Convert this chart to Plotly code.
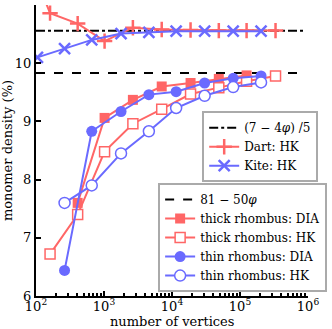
import plotly.graph_objects as go

# x positions (number of vertices)
dart_x = [62, 161, 410, 1020, 2660, 7060, 18750, 48800, 125000, 333000]
dart_y = [12.07, 10.86, 10.68, 10.38, 10.61, 10.58, 10.57, 10.56, 10.56, 10.56]

kite_x = [105, 263, 660, 1780, 4570, 11500, 30200, 79400, 204000]
kite_y = [10.10, 10.25, 10.40, 10.51, 10.53, 10.55, 10.55, 10.55, 10.55]

thick_dia_x = [410, 1020, 2660, 7060, 18750, 48800, 125000]
thick_dia_y = [7.60, 9.06, 9.37, 9.60, 9.66, 9.73, 9.79]

thick_hk_x = [161, 410, 1020, 2660, 7060, 18750, 48800, 125000, 333000]
thick_hk_y = [6.72, 7.40, 8.48, 8.96, 9.21, 9.47, 9.58, 9.69, 9.78]

thin_x = [263, 660, 1780, 4570, 11500, 30200, 79400, 204000]
thin_dia_y = [6.44, 8.83, 9.17, 9.46, 9.51, 9.66, 9.74, 9.78]
thin_hk_y = [7.60, 7.90, 8.45, 8.83, 9.23, 9.44, 9.59, 9.67]

phi = (1 + 5 ** 0.5) / 2
ref_x = [100, 900000]
kite_limit = (7 - 4 * phi) / 5 * 100
rhomb_limit = (81 - 50 * phi) * 100

RED = "#ff6666"
BLUE = "#6a6aff"
FONT = "DejaVu Serif"

fig = go.Figure()

fig.add_trace(go.Scatter(x=ref_x, y=[kite_limit] * 2, mode="lines",
                         line=dict(color="black", width=2, dash="dashdot"),
                         name="(7 − 4<i>φ</i>) /5", legend="legend"))
fig.add_trace(go.Scatter(x=dart_x, y=dart_y, mode="lines+markers",
                         line=dict(color=RED, width=2),
                         marker=dict(symbol="cross-thin-open", size=11,
                                     line=dict(color=RED, width=2.5)),
                         name="Dart: HK", legend="legend"))
fig.add_trace(go.Scatter(x=kite_x, y=kite_y, mode="lines+markers",
                         line=dict(color=BLUE, width=2),
                         marker=dict(symbol="x-thin-open", size=11,
                                     line=dict(color=BLUE, width=2.5)),
                         name="Kite: HK", legend="legend"))

fig.add_trace(go.Scatter(x=ref_x, y=[rhomb_limit] * 2, mode="lines",
                         line=dict(color="black", width=2, dash="dash"),
                         name="81 − 50<i>φ</i>", legend="legend2"))
fig.add_trace(go.Scatter(x=thick_dia_x, y=thick_dia_y, mode="lines+markers",
                         line=dict(color=RED, width=2),
                         marker=dict(symbol="square", size=10, color=RED),
                         name="thick rhombus: DIA", legend="legend2"))
fig.add_trace(go.Scatter(x=thick_hk_x, y=thick_hk_y, mode="lines+markers",
                         line=dict(color=RED, width=2),
                         marker=dict(symbol="square", size=10, color="white",
                                     line=dict(color=RED, width=1.5)),
                         name="thick rhombus: HK", legend="legend2"))
fig.add_trace(go.Scatter(x=thin_x, y=thin_dia_y, mode="lines+markers",
                         line=dict(color=BLUE, width=2),
                         marker=dict(symbol="circle", size=11, color=BLUE),
                         name="thin rhombus: DIA", legend="legend2"))
fig.add_trace(go.Scatter(x=thin_x, y=thin_hk_y, mode="lines+markers",
                         line=dict(color=BLUE, width=2),
                         marker=dict(symbol="circle", size=11, color="white",
                                     line=dict(color=BLUE, width=1.5)),
                         name="thin rhombus: HK", legend="legend2"))

legend_style = dict(bgcolor="white", bordercolor="#aaaaaa", borderwidth=2,
                    font=dict(family=FONT, size=12, color="black"),
                    itemwidth=30, tracegroupgap=0,
                    xanchor="left", yanchor="top")

fig.update_layout(
    width=332, height=329,
    margin=dict(l=36, r=13, t=5, b=33),
    paper_bgcolor="white", plot_bgcolor="white",
    font=dict(family=FONT, size=13, color="black"),
    showlegend=True,
    legend=dict(x=0.611, y=0.635, **legend_style),
    legend2=dict(x=0.449, y=0.388, **legend_style),
)

# x axis title as a paper annotation so it sits clear of the tick labels
fig.add_annotation(text="number of vertices", xref="paper", yref="paper",
                   x=0.5, y=0, xanchor="center", yanchor="bottom",
                   yshift=-35, showarrow=False,
                   font=dict(family=FONT, size=13, color="black"))

fig.update_xaxes(
    type="log", range=[2, 6], automargin=False,
    tickvals=[100, 1000, 10000, 100000, 1000000],
    ticktext=["10<sup>2</sup>", "10<sup>3</sup>", "10<sup>4</sup>",
              "10<sup>5</sup>", "10<sup>6</sup>"],
    ticks="inside", ticklen=5, tickwidth=1.5, tickcolor="black",
    ticklabelstandoff=-3,
    minor=dict(ticks="inside", ticklen=3, tickcolor="black", dtick="D1"),
    showline=True, linecolor="black", linewidth=2,
    showgrid=False, zeroline=False,
)
fig.update_yaxes(
    range=[6, 11], tickvals=[6, 7, 8, 9, 10, 11], automargin=False,
    ticks="inside", ticklen=5, tickwidth=1.5, tickcolor="black",
    showline=True, linecolor="black", linewidth=2,
    showgrid=False, zeroline=False,
    title=dict(text="monomer density (%)", standoff=2,
               font=dict(family=FONT, size=13)),
)

# the page body has a default margin; drop it so the figure fills the window
fig.write_html("out.html", config={"displayModeBar": False},
               post_script="document.body.style.margin = '0';")
